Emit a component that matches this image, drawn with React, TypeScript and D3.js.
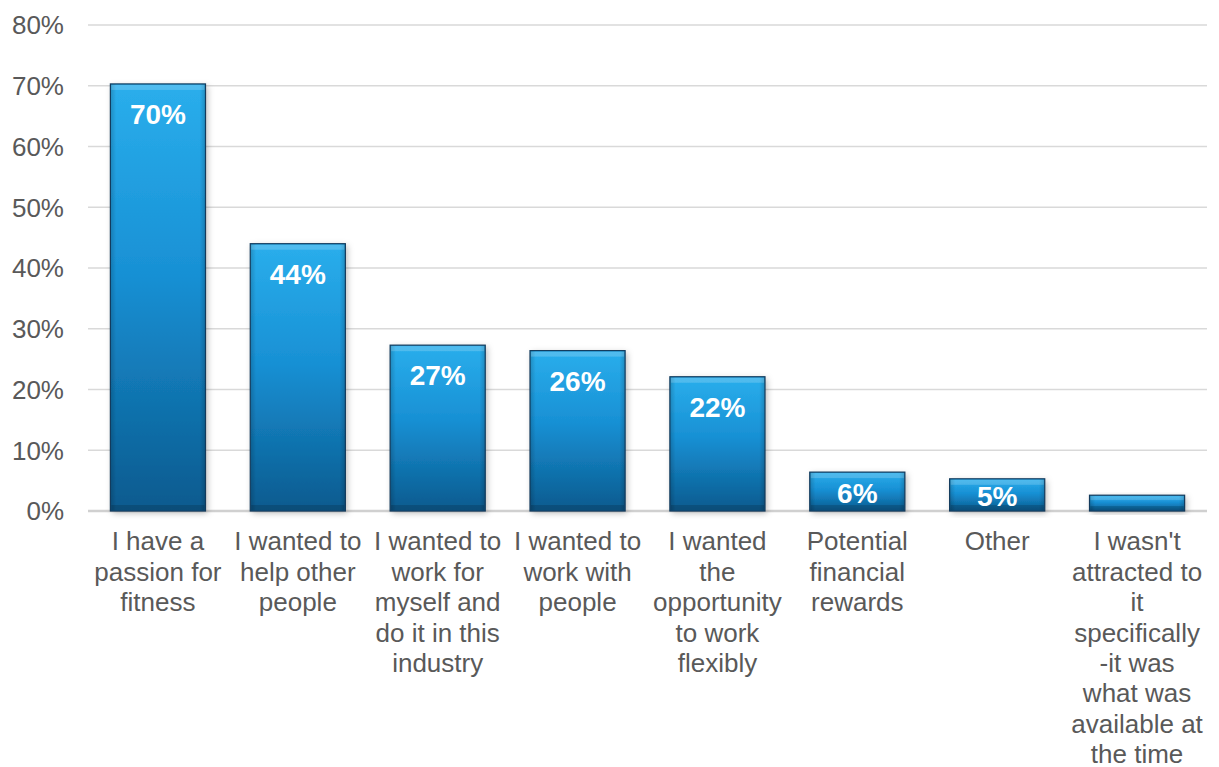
import React from "react";
import * as d3 from "d3";

const categories: string[] = [
  "I have a\npassion for\nfitness",
  "I wanted to\nhelp other\npeople",
  "I wanted to\nwork for\nmyself and\ndo it in this\nindustry",
  "I wanted to\nwork with\npeople",
  "I wanted\nthe\nopportunity\nto work\nflexibly",
  "Potential\nfinancial\nrewards",
  "Other",
  "I wasn't\nattracted to\nit\nspecifically\n-it was\nwhat was\navailable at\nthe time",
];
const values: number[] = [70.3, 44.0, 27.3, 26.4, 22.1, 6.4, 5.3, 2.6];
const labels: (string | null)[] = ["70%", "44%", "27%", "26%", "22%", "6%", "5%", null];
const yTicks: number[] = [0, 10, 20, 30, 40, 50, 60, 70, 80];

const W = 1219;
const H = 767;
const FONT = "Arial, 'Liberation Sans', sans-serif";

export default function App() {
  const left = 88;
  const right = 1207;
  const top = 25;
  const bottom = 511;

  const x = d3
    .scaleBand<number>()
    .domain(d3.range(categories.length))
    .range([left, right])
    .paddingInner(0.32)
    .paddingOuter(0.16);
  const y = d3.scaleLinear().domain([0, 80]).range([bottom, top]);

  return (
    <svg
      width={W}
      height={H}
      style={{ position: "absolute", left: 0, top: 0, background: "#fff" }}
    >
      <defs>
        <linearGradient id="barGrad" x1="0" y1="0" x2="0" y2="1">
          <stop offset="0" stopColor="#2aaeec" />
          <stop offset="0.45" stopColor="#1890d4" />
          <stop offset="1" stopColor="#0a5a8e" />
        </linearGradient>
        <linearGradient id="sideGrad" x1="0" y1="0" x2="1" y2="0">
          <stop offset="0" stopColor="#000" stopOpacity="0.18" />
          <stop offset="0.06" stopColor="#000" stopOpacity="0" />
          <stop offset="0.94" stopColor="#000" stopOpacity="0" />
          <stop offset="1" stopColor="#000" stopOpacity="0.18" />
        </linearGradient>
        <filter id="shadow" x="-20%" y="-20%" width="140%" height="140%">
          <feDropShadow dx="2" dy="2" stdDeviation="3" floodColor="#000" floodOpacity="0.28" />
        </filter>
        <clipPath id="plotClip">
          <rect x={left} y={0} width={right - left} height={bottom - 2} />
        </clipPath>
      </defs>

      {/* gridlines */}
      {yTicks.map((t) => (
        <line
          key={"g" + t}
          x1={left}
          x2={right}
          y1={y(t)}
          y2={y(t)}
          stroke={t === 0 ? "#d0d0d0" : "#d9d9d9"}
          strokeWidth={t === 0 ? 2.5 : 1.3}
        />
      ))}

      {/* y tick labels */}
      {yTicks.map((t) => (
        <text
          key={"t" + t}
          x={64}
          y={y(t)}
          dy="0.36em"
          textAnchor="end"
          fontFamily={FONT}
          fontSize={26}
          fill="#595959"
        >
          {t + "%"}
        </text>
      ))}

      {/* bars */}
      {values.map((v, i) => {
        const bx = x(i)!;
        const bw = x.bandwidth();
        const by = y(v);
        const bh = bottom - by;
        const bev = Math.min(5, bh / 4);
        return (
          <g key={"b" + i}>
            <rect
              x={bx}
              y={by}
              width={bw}
              height={bh}
              fill="url(#barGrad)"
              filter="url(#shadow)"
            />
            <rect x={bx} y={by} width={bw} height={bh} fill="url(#sideGrad)" />
            <rect x={bx + 1} y={by + 1} width={bw - 2} height={bev} fill="#ffffff" opacity={0.18} />
            <rect x={bx + 1} y={bottom - bev - 1} width={bw - 2} height={bev} fill="#000" opacity={0.15} />
            <rect
              x={bx}
              y={by}
              width={bw}
              height={bh}
              fill="none"
              stroke="#123a5c"
              strokeWidth={1.2}
            />
          </g>
        );
      })}

      {/* value labels */}
      <g clipPath="url(#plotClip)">
        {values.map((v, i) => {
          const lab = labels[i];
          if (!lab) return null;
          const by = y(v);
          const cy = Math.min(by + 30, (by + bottom) / 2 + 1);
          return (
            <text
              key={"v" + i}
              x={x(i)! + x.bandwidth() / 2}
              y={cy}
              dy="0.36em"
              textAnchor="middle"
              fontFamily={FONT}
              fontSize={28}
              fontWeight="bold"
              fill="#ffffff"
            >
              {lab}
            </text>
          );
        })}
      </g>

      {/* category labels */}
      {categories.map((c, i) => {
        const cx = x(i)! + x.bandwidth() / 2;
        return (
          <text
            key={"c" + i}
            x={cx}
            y={541}
            textAnchor="middle"
            fontFamily={FONT}
            fontSize={26}
            fill="#595959"
          >
            {c.split("\n").map((line, j) => (
              <tspan key={j} x={cx} y={541 + j * 30.4} dy="0.36em">
                {line}
              </tspan>
            ))}
          </text>
        );
      })}
    </svg>
  );
}
